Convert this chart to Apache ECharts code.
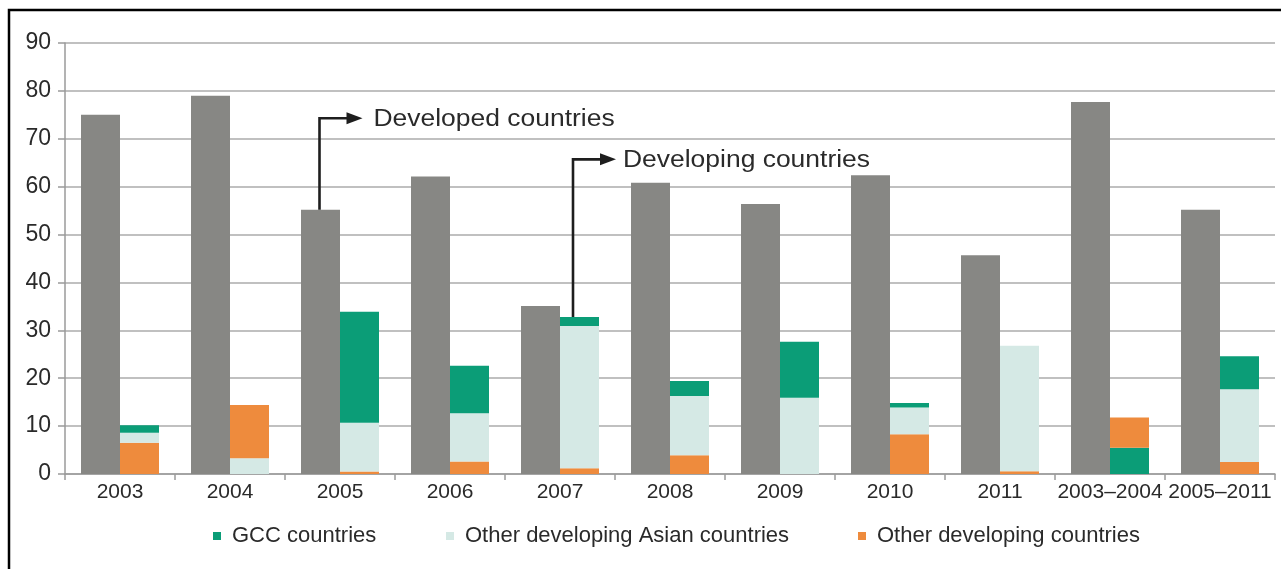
<!DOCTYPE html>
<html>
<head>
<meta charset="utf-8">
<script src="https://cdn.jsdelivr.net/npm/echarts@6/dist/echarts.min.js"></script>
<style>
html,body{margin:0;padding:0;background:#fff;}
#c{width:1281px;height:569px;}
</style>
</head>
<body>
<div id="c"></div>
<script>
// ---- data ----
const categories = ['2003','2004','2005','2006','2007','2008','2009','2010','2011','2003–2004','2005–2011'];
const yTicks = [0,10,20,30,40,50,60,70,80,90];
const developed = [75, 79, 55.2, 62.1, 35.1, 60.8, 56.4, 62.4, 45.7, 77.7, 55.2];
const gcc = [1.6, 0, 23.2, 9.9, 1.9, 3.1, 11.7, 0.9, 0, 5.5, 6.9];
const otherAsian = [2.1, 3.3, 10.2, 10.1, 29.7, 12.4, 15.9, 5.6, 26.2, 0, 15.2];
// "Other developing countries" drawn at the bottom of the stack in most years,
// and on top of the stack in 2004 and 2003–2004
const otherDevBelow = [6.5, 0, 0.5, 2.6, 1.2, 3.9, 0, 8.3, 0.6, 0, 2.5];
const otherDevAbove = [0, 11.1, 0, 0, 0, 0, 0, 0, 0, 6.3, 0];

const C = {
  gray: '#878784', green: '#0b9d77', light: '#d5e9e5', orange: '#ee8b3d',
  grid: '#ababab', axis: '#9a9a9a', text: '#2a2a2a'
};
const FONT = 'Liberation Sans, Arial, Helvetica, sans-serif';
const BW = 39;

const chart = echarts.init(document.getElementById('c'), null, {renderer: 'canvas'});

function legendAt(left, name) {
  return {
    left: left, top: 520, orient: 'horizontal',
    data: [name], icon: 'rect', itemWidth: 8, itemHeight: 8,
    selectedMode: false,
    textStyle: {fontFamily: FONT, fontSize: 22, color: C.text, padding: [0,0,0,6]}
  };
}

const option = {
  animation: false,
  backgroundColor: '#fff',
  grid: {left: 65, right: 6, top: 43, bottom: 95, containLabel: false},
  legend: [
    legendAt(208, 'GCC countries'),
    legendAt(441, 'Other developing Asian countries'),
    legendAt(853, 'Other developing countries')
  ],
  xAxis: {
    type: 'category', data: categories, boundaryGap: true,
    axisLine: {show: true, lineStyle: {color: C.axis, width: 1.5}},
    axisTick: {show: true, alignWithLabel: false, length: 6, lineStyle: {color: C.axis, width: 1.5}},
    axisLabel: {fontFamily: FONT, fontSize: 21, color: C.text, margin: 8, interval: 0},
    splitLine: {show: false}
  },
  yAxis: {
    type: 'value', min: yTicks[0], max: yTicks[yTicks.length-1], interval: yTicks[1]-yTicks[0],
    axisLine: {show: true, lineStyle: {color: C.axis, width: 1.5}},
    axisTick: {show: true, length: 7, lineStyle: {color: C.axis, width: 1.5}},
    axisLabel: {fontFamily: FONT, fontSize: 23, color: C.text, margin: 14},
    splitLine: {show: true, lineStyle: {color: C.grid, width: 1.5}}
  },
  series: [
    {name: 'Developed countries', type: 'bar', stack: 'dev', barWidth: BW, barGap: '0%',
      itemStyle: {color: C.gray}, data: developed},
    {name: 'Other developing countries', type: 'bar', stack: 'devg', barWidth: BW, barGap: '0%',
      itemStyle: {color: C.orange}, data: otherDevBelow},
    {name: 'Other developing Asian countries', type: 'bar', stack: 'devg', barWidth: BW,
      itemStyle: {color: C.light}, data: otherAsian},
    {name: 'GCC countries', type: 'bar', stack: 'devg', barWidth: BW,
      itemStyle: {color: C.green}, data: gcc},
    {name: 'Other developing countries', type: 'bar', stack: 'devg', barWidth: BW,
      itemStyle: {color: C.orange}, data: otherDevAbove}
  ]
};
chart.setOption(option);

// ---- annotations (callouts) placed through the chart's own scales ----
function px(catIdx, v) { return chart.convertToPixel({xAxisIndex: 0, yAxisIndex: 0}, [catIdx, v]); }
function callout(catIdx, fromVal, elbowVal, dx, textDx, label) {
  const p0 = px(catIdx, fromVal);
  const p1 = px(catIdx, elbowVal);
  const x0 = p0[0] + dx, y0 = p0[1], ye = p1[1];
  const stroke = '#1e1e1e';
  return [
    {type: 'polyline', silent: true, z: 50,
      shape: {points: [[x0, y0], [x0, ye], [x0 + 30, ye]]},
      style: {stroke: stroke, lineWidth: 2.6, fill: null}},
    {type: 'polygon', silent: true, z: 50,
      shape: {points: [[x0 + 27, ye - 6], [x0 + 43, ye], [x0 + 27, ye + 6]]},
      style: {fill: stroke}},
    {type: 'text', silent: true, z: 50, x: x0 + textDx, y: ye + 1, scaleX: 1.15,
      style: {text: label, fontFamily: FONT, fontSize: 23, fill: C.text, verticalAlign: 'middle', align: 'left'}}
  ];
}
const graphics = [
  {type: 'rect', silent: true, z: 60, shape: {x: 9, y: 10, width: 1400, height: 700},
    style: {fill: null, stroke: '#000', lineWidth: 2.5}}
]
  .concat(callout(2, developed[2], 74.3, -BW / 2 - 1, 54, 'Developed countries'))
  .concat(callout(4, otherDevBelow[4] + otherAsian[4] + gcc[4], 65.7, 13, 50, 'Developing countries'));
chart.setOption({graphic: graphics});
</script>
</body>
</html>
